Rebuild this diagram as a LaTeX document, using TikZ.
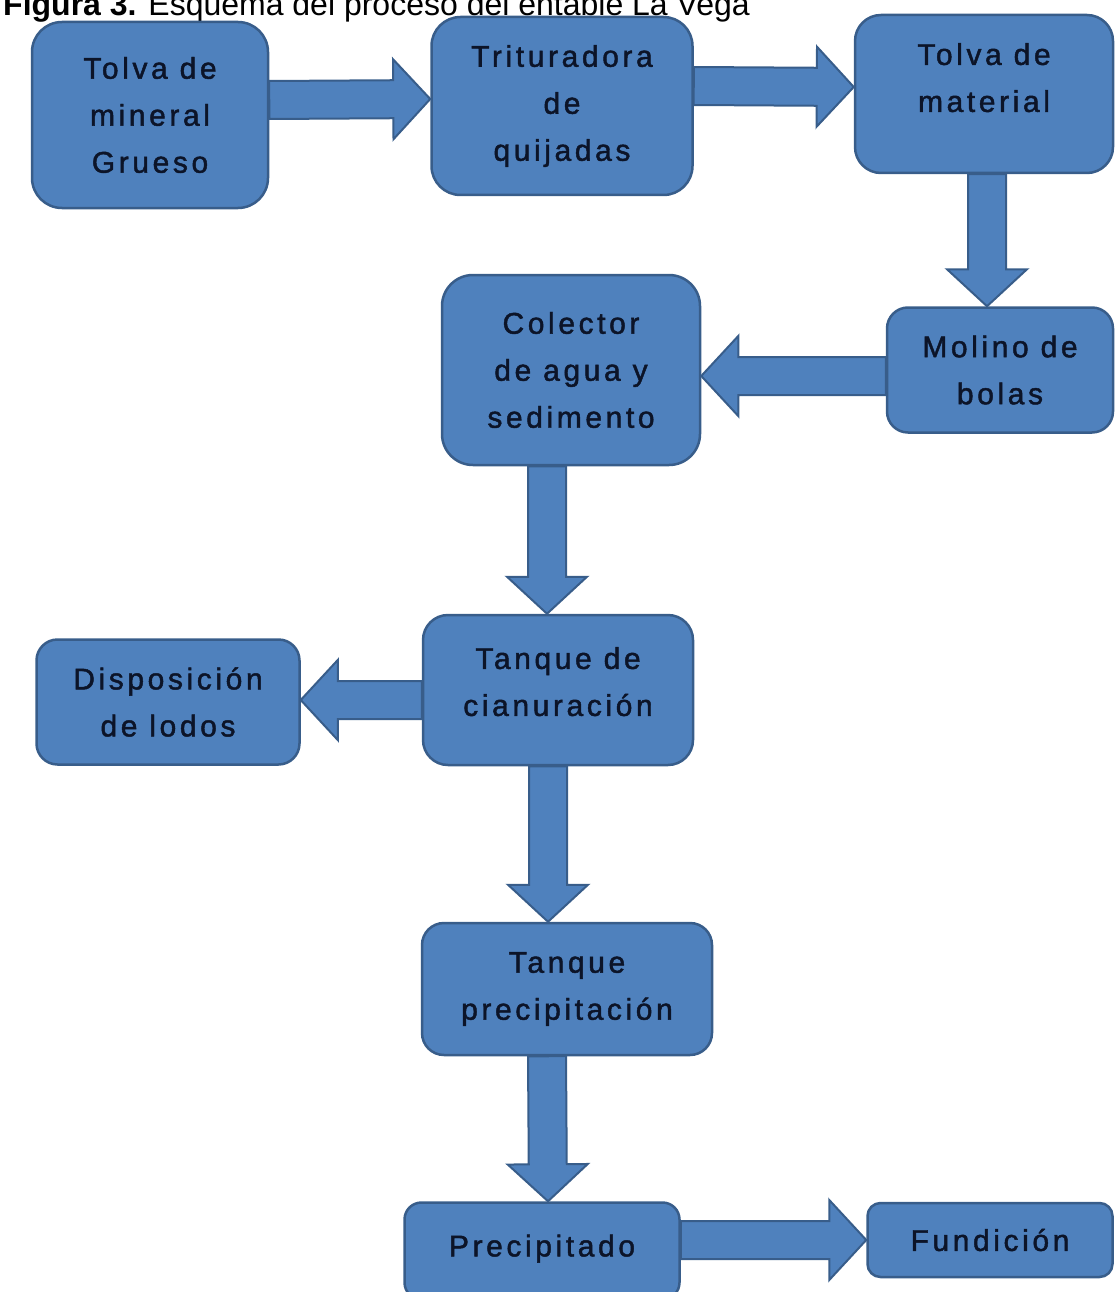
\documentclass[tikz,border=0pt]{standalone}
\usepackage{fontspec}
\setmainfont{Liberation Sans}
\newfontfamily\cajafont[LetterSpace=12,FakeBold=1.5]{Liberation Sans}
\usetikzlibrary{calc}
\pgfdeclarelayer{bg}
\pgfsetlayers{bg,main}

\definecolor{azul}{RGB}{79,129,189}
\definecolor{borde}{RGB}{56,93,138}
\definecolor{texto}{RGB}{12,20,40}

\tikzset{
    caja/.style={draw=borde, fill=azul, line width=2.5pt, rounded corners=#1, inner sep=0pt,
        align=center, text=texto, font=\cajafont\fontsize{30}{47}\selectfont},
    caja/.default=25pt,
    flecha/.style={draw=borde, fill=azul, line width=2pt, line join=miter}
}

% block arrow from #1 to #2 (tip at #2)
\newcommand{\flecha}[2]{%
    \filldraw[flecha] ($(#1)!19pt!90:(#2)$)
        -- ($(#2)!37pt!(#1)!19pt!-90:(#1)$)
        -- ($(#2)!37pt!(#1)!40pt!-90:(#1)$)
        -- (#2)
        -- ($(#2)!37pt!(#1)!40pt!90:(#1)$)
        -- ($(#2)!37pt!(#1)!19pt!90:(#1)$)
        -- ($(#1)!19pt!-90:(#2)$) -- cycle;}

% text set a bit higher than the box centre
\newcommand{\subido}[2]{\raisebox{#1}[\height][\depth]{\begin{tabular}{@{}c@{}}#2\end{tabular}}}

\begin{document}
\begin{tikzpicture}[x=1pt, y=-1pt]
    \useasboundingbox (0,0) rectangle (1115,1292);
    \clip (0,0) rectangle (1115,1292);

    \node[anchor=base west, inner sep=0pt, font=\fontsize{32}{38}\selectfont] (titulo) at (3,16)
        {\textbf{Figura 3.} Esquema del proceso del entable La Vega};

    % first row
    \node[caja=30pt, minimum width=236pt, minimum height=186pt] (tmin) at (150,115) {Tolva de\\mineral\\Grueso};
    \node[caja=29pt, minimum width=261pt, minimum height=178pt] (trit) at (562,106) {Trituradora\\de\\quijadas};
    \node[caja=26pt, minimum width=258pt, minimum height=158pt] (tmat) at (984,94) {\subido{15pt}{Tolva de\\material}};

    % second row
    \node[caja=21pt, minimum width=226pt, minimum height=125pt] (mol) at (1000,370) {Molino de\\bolas};
    \node[caja=31pt, minimum width=258pt, minimum height=190pt] (col) at (571,370) {Colector\\de agua y\\sedimento};

    % cyanidation
    \node[caja=25pt, minimum width=270pt, minimum height=150pt] (tcian) at (558,690) {\subido{7pt}{Tanque de\\cianuración}};
    \node[caja=21pt, minimum width=263pt, minimum height=125pt] (disp) at (168,702) {Disposición\\de lodos};

    % precipitation
    \node[caja=22pt, minimum width=290pt, minimum height=132pt] (tprec) at (567,989) {Tanque\\precipitación};
    \node[caja=17pt, minimum width=275pt, minimum height=97pt] (prec) at (542,1251) {\subido{4pt}{Precipitado}};
    \node[caja=13pt, minimum width=245pt, minimum height=74pt] (fund) at (990,1240) {Fundición};

    \begin{pgfonlayer}{bg}
        \flecha{[yshift=15pt]tmin.east}{[yshift=7pt]trit.west}
        \flecha{[yshift=20pt]trit.east}{[yshift=7pt]tmat.west}
        \flecha{[xshift=3pt]tmat.south}{[xshift=-13pt]mol.north}
        \flecha{[yshift=-6pt]mol.west}{[yshift=-6pt]col.east}
        \flecha{[xshift=-24pt]col.south}{[xshift=-11pt]tcian.north}
        \flecha{[yshift=-10pt]tcian.west}{[yshift=2pt]disp.east}
        \flecha{[xshift=-10pt]tcian.south}{[xshift=-19pt]tprec.north}
        \flecha{[xshift=-20pt]tprec.south}{[xshift=6pt]prec.north}
        \flecha{[yshift=11pt]prec.east}{fund.west}
    \end{pgfonlayer}
\end{tikzpicture}
\end{document}
